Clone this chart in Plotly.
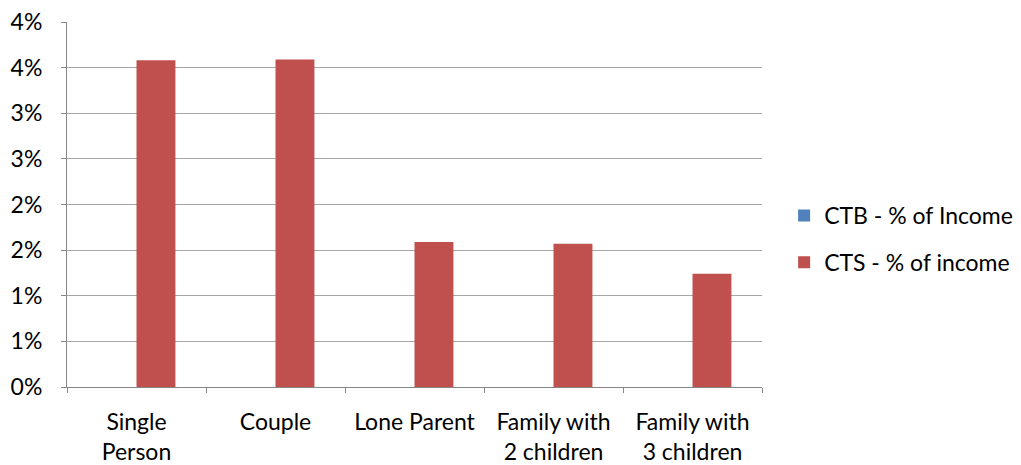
import plotly.graph_objects as go

# Household types on the category axis
categories = ["Single<br>Person", "Couple", "Lone Parent",
              "Family with<br>2 children", "Family with<br>3 children"]

# Share of income, in percent
ctb_pct = [0, 0, 0, 0, 0]
cts_pct = [3.58, 3.59, 1.59, 1.57, 1.24]

# y-axis ticks every half percent, labelled with whole percents
y_tickvals = [0, 0.5, 1, 1.5, 2, 2.5, 3, 3.5, 4]
y_ticktext = ["0%", "1%", "1%", "2%", "2%", "3%", "3%", "4%", "4%"]

FONT = "Lato, Calibri, Carlito, sans-serif"
FONT_SIZE = 23
AXIS_GREY = "#868686"
GRID_GREY = "#a6a6a6"

fig = go.Figure()
fig.add_trace(go.Bar(
    x=categories, y=ctb_pct, name="CTB - % of Income",
    marker=dict(color="#4F81BD", line=dict(width=0)),
    legendgroup="ctb",
))
fig.add_trace(go.Bar(
    x=categories, y=cts_pct, name="CTS - % of income",
    marker=dict(color="#C0504D", line=dict(width=0)),
    legendgroup="cts",
))

fig.update_layout(
    width=1021, height=465,
    margin=dict(l=67, r=259, t=22, b=78, autoexpand=False),
    paper_bgcolor="white", plot_bgcolor="white",
    barmode="group", bargap=0.44, bargroupgap=0,
    font=dict(family=FONT, size=FONT_SIZE, color="#000000"),
    legend=dict(
        xref="container", yref="container",
        x=0.768, xanchor="left", y=0.486, yanchor="middle",
        font=dict(family=FONT, size=FONT_SIZE, color="#000000"),
        tracegroupgap=14, itemwidth=30,
        bgcolor="rgba(0,0,0,0)",
    ),
    showlegend=True,
)

fig.update_xaxes(
    type="category", automargin=False,
    showline=True, linecolor=AXIS_GREY, linewidth=1,
    ticks="outside", tickson="boundaries", ticklen=5, tickcolor=AXIS_GREY,
    showgrid=False, zeroline=False,
    tickfont=dict(family=FONT, size=FONT_SIZE, color="#000000"),
    ticklabelstandoff=14,
)
fig.update_yaxes(
    range=[0, 4], tickvals=y_tickvals, ticktext=y_ticktext, automargin=False,
    showline=True, linecolor=AXIS_GREY, linewidth=1,
    ticks="outside", ticklen=5, tickcolor=AXIS_GREY,
    showgrid=True, gridcolor=GRID_GREY, gridwidth=1,
    zeroline=False,
    tickfont=dict(family=FONT, size=FONT_SIZE, color="#000000"),
    ticklabelstandoff=14,
)

fig.write_html("out.html")
